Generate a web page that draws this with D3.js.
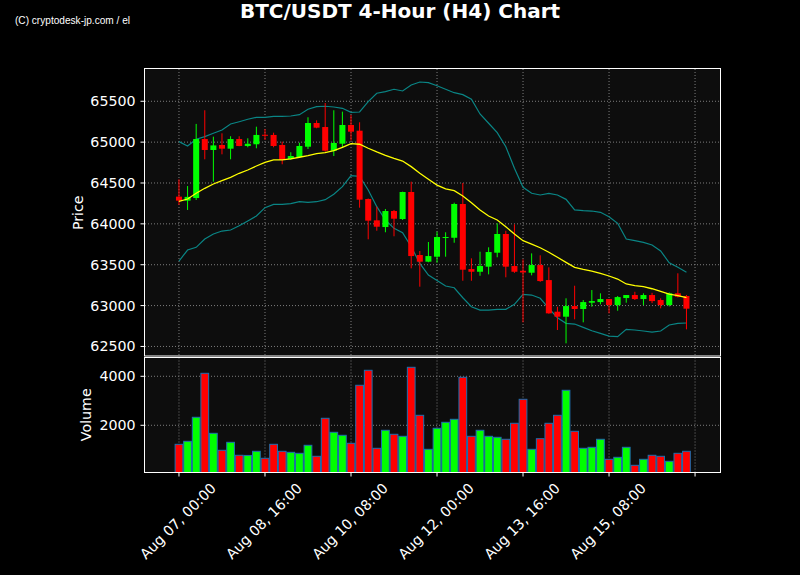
<!DOCTYPE html>
<html><head><meta charset="utf-8">
<script src="https://cdn.jsdelivr.net/npm/d3@7/dist/d3.min.js"></script>
<style>body{margin:0;background:#000}svg{display:block}</style>
</head><body>
<svg id="chart" width="800" height="575"></svg>
<script>
// ---- data ----
const xTickIndex = [0, 10, 20, 30, 40, 50, 60];
const xTickLabels = ["Aug 07, 00:00", "Aug 08, 16:00", "Aug 10, 08:00", "Aug 12, 00:00", "Aug 13, 16:00", "Aug 15, 08:00", ""];
const priceTicks = [62500, 63000, 63500, 64000, 64500, 65000, 65500];
const volumeTicks = [2000, 4000];

const openP = [64333,64284,64316,65038,64904,64965,64920,65038,64953,64974,65090,65088,64965,64794,64818,64944,65234,65185,64895,64981,65210,65140,64304,64043,63961,64157,64059,64390,63619,63537,63598,63827,63830,64243,63447,63414,63476,63647,63876,63484,63426,63402,63496,63312,62925,62864,62994,62958,63035,63043,63080,63006,63092,63129,63080,63129,63068,63006,63150,63117];
const highP = [64545,64463,65223,65390,65067,65108,65072,65072,65047,65189,65161,65116,65006,64876,64993,65304,65267,65479,65390,65373,65332,65243,64310,64210,64182,64170,64394,64516,63668,63778,63904,63897,64259,64500,63578,63659,63713,64007,63916,63994,63566,63639,63615,63468,62986,63089,63243,63068,63190,63150,63080,63117,63129,63169,63150,63156,63089,63160,63395,63129];
const lowP = [64231,64170,64292,64790,64516,64851,64790,64950,64937,64925,65026,64937,64729,64782,64810,64916,65170,64883,64830,64937,65018,64198,63811,63916,63897,63848,64047,63456,63231,63530,63524,63598,63769,63304,63304,63365,63382,63591,63346,63400,62795,63370,63290,62900,62701,62538,62832,62795,62986,63015,62905,62937,63035,63068,63006,63030,62966,62990,63100,62709];
const closeP = [64284,64330,65038,64904,64960,64920,65038,64953,64980,65088,65085,64953,64782,64830,64953,65234,65177,64895,64990,65210,65128,64296,64039,63965,64157,64063,64390,63606,63537,63606,63839,63839,64243,63439,63414,63484,63655,63876,63476,63414,63405,63496,63300,62905,62864,62994,62958,63043,63055,63080,63006,63104,63129,63080,63129,63055,63006,63150,63108,62962];
const volume = [1224,1347,2327,4122,1673,980,1306,776,770,939,653,1224,939,898,857,1184,735,2286,1714,1592,1265,3633,4245,1061,1796,1633,1551,4367,2408,1020,1878,2122,2245,3959,1551,1796,1551,1510,1429,2082,3061,1020,1453,2082,2408,3429,1755,1061,1102,1429,612,694,1102,367,612,776,735,531,857,939];
const sma = [64276,64304,64374,64435,64488,64528,64570,64619,64659,64708,64753,64782,64782,64794,64815,64834,64859,64871,64895,64937,64981,64974,64925,64880,64839,64802,64769,64700,64619,64545,64474,64427,64406,64341,64259,64170,64096,64047,63965,63876,63794,63753,63708,63652,63591,63529,63468,63444,63423,63395,63362,63325,63264,63243,63231,63206,63174,63141,63121,63096];
const upperBand = [65006,64953,65035,65067,65108,65149,65222,65250,65280,65304,65304,65316,65316,65320,65336,65402,65434,65439,65430,65414,65365,65369,65495,65598,65618,65647,65626,65700,65736,65728,65690,65647,65605,65581,65524,65345,65231,65116,64944,64680,64447,64374,64353,64374,64353,64300,64170,64161,64157,64141,64088,64007,63814,63794,63774,63741,63668,63524,63468,63407];
const lowerBand = [63545,63680,63713,63814,63876,63912,63925,63977,64035,64096,64198,64239,64239,64247,64271,64264,64271,64296,64362,64455,64589,64582,64414,64210,64047,63945,63892,63720,63517,63374,63308,63239,63218,63096,62986,62945,62945,62954,62954,63015,63138,63129,63089,62966,62851,62783,62774,62734,62692,62660,62627,62619,62709,62701,62689,62676,62689,62762,62783,62787];

const idx = d3.range(openP.length);
const UP = "#00ff00", DOWN = "#ff0000";

// ---- layout ----
const L = 145, R = 720;
const pTop = 69, pBot = 356.5, vTop = 357.5, vBot = 472;
const svg = d3.select("#chart");
svg.append("rect").attr("width", 800).attr("height", 575).attr("fill", "#000");

const x = d3.scaleLinear().domain([-3.95, 62.9]).range([L, R]);
const yP = d3.scaleLinear().domain([62383, 65895]).range([356, 69]);
const yV = d3.scaleLinear().domain([94, 4775]).range([vBot, 357.3]);
const step = x(1) - x(0);

const font = "'DejaVu Sans', sans-serif";

// panels backgrounds
svg.append("rect").attr("x", L).attr("y", pTop).attr("width", R - L).attr("height", pBot - pTop).attr("fill", "#0d0d0d");
svg.append("rect").attr("x", L).attr("y", vTop).attr("width", R - L).attr("height", vBot - vTop).attr("fill", "#0d0d0d");

svg.append("clipPath").attr("id", "clipP").append("rect").attr("x", L).attr("y", pTop).attr("width", R - L).attr("height", pBot - pTop);
svg.append("clipPath").attr("id", "clipV").append("rect").attr("x", L).attr("y", vTop).attr("width", R - L).attr("height", vBot - vTop);

// grids
const grid = svg.append("g").attr("stroke", "#9a9a9a").attr("stroke-width", 1).attr("stroke-dasharray", "1,2").attr("opacity", 0.8);
xTickIndex.forEach(i => {
  grid.append("line").attr("x1", x(i)).attr("x2", x(i)).attr("y1", pTop).attr("y2", pBot);
  grid.append("line").attr("x1", x(i)).attr("x2", x(i)).attr("y1", vTop).attr("y2", vBot);
});
priceTicks.forEach(t => grid.append("line").attr("x1", L).attr("x2", R).attr("y1", yP(t)).attr("y2", yP(t)));
volumeTicks.forEach(t => grid.append("line").attr("x1", L).attr("x2", R).attr("y1", yV(t)).attr("y2", yV(t)));

// price panel content
const gP = svg.append("g").attr("clip-path", "url(#clipP)");
const line = arr => d3.line().x((d, i) => x(i)).y(d => yP(d))(arr);
gP.append("path").attr("d", line(upperBand)).attr("fill", "none").attr("stroke", "#0a8585").attr("stroke-width", 1.2);
gP.append("path").attr("d", line(lowerBand)).attr("fill", "none").attr("stroke", "#0a8585").attr("stroke-width", 1.2);

const cw = step * 0.7;
idx.forEach(i => {
  const up = closeP[i] >= openP[i];
  const c = up ? UP : DOWN;
  gP.append("line").attr("x1", x(i)).attr("x2", x(i)).attr("y1", yP(highP[i])).attr("y2", yP(lowP[i])).attr("stroke", c).attr("stroke-width", 1);
  const top = yP(Math.max(openP[i], closeP[i])), bot = yP(Math.min(openP[i], closeP[i]));
  gP.append("rect").attr("x", x(i) - cw / 2).attr("y", top).attr("width", cw).attr("height", Math.max(1, bot - top)).attr("fill", c);
});
gP.append("path").attr("d", line(sma)).attr("fill", "none").attr("stroke", "#ffff00").attr("stroke-width", 1.3);

// volume panel
const gV = svg.append("g").attr("clip-path", "url(#clipV)");
const bw = step * 0.9;
idx.forEach(i => {
  const up = closeP[i] >= openP[i];
  gV.append("rect").attr("x", x(i) - bw / 2).attr("y", yV(volume[i])).attr("width", bw).attr("height", yV(94) - yV(volume[i]) + 2)
    .attr("fill", up ? UP : DOWN).attr("stroke", "#1f6fb0").attr("stroke-width", 1);
});

// spines
const sp = svg.append("g").attr("fill", "none").attr("stroke", "#fff").attr("stroke-width", 1);
sp.append("rect").attr("x", L - 0.5).attr("y", pTop - 0.5).attr("width", R - L + 1).attr("height", pBot - pTop);
sp.append("rect").attr("x", L - 0.5).attr("y", vTop).attr("width", R - L + 1).attr("height", vBot - vTop + 0.5);

// y ticks & labels
const tk = svg.append("g").attr("stroke", "#fff").attr("stroke-width", 1);
const lab = svg.append("g").attr("fill", "#fff").attr("font-family", font).attr("font-size", "14.2px");
priceTicks.forEach(t => {
  tk.append("line").attr("x1", L - 4.5).attr("x2", L - 0.5).attr("y1", yP(t)).attr("y2", yP(t));
  lab.append("text").attr("x", L - 9.5).attr("y", yP(t)).attr("dy", "0.35em").attr("text-anchor", "end").text(d3.format("d")(t));
});
volumeTicks.forEach(t => {
  tk.append("line").attr("x1", L - 4.5).attr("x2", L - 0.5).attr("y1", yV(t)).attr("y2", yV(t));
  lab.append("text").attr("x", L - 9.5).attr("y", yV(t)).attr("dy", "0.35em").attr("text-anchor", "end").text(d3.format("d")(t));
});
// x ticks & rotated labels
xTickIndex.forEach((i, k) => {
  tk.append("line").attr("x1", x(i)).attr("x2", x(i)).attr("y1", vBot + 0.5).attr("y2", vBot + 4.5);
  if (!xTickLabels[k]) return;
  const t = lab.append("text").attr("text-anchor", "middle").attr("dominant-baseline", "central").text(xTickLabels[k]);
  const w = t.node().getComputedTextLength();
  const h = 13.9 * 1.16;
  const bh = (w + h) * Math.SQRT1_2;
  const cx = x(i) - 1, cy = vBot + 4.5 + 3.5 + bh / 2;
  t.attr("transform", `translate(${cx},${cy}) rotate(-45)`);
});

// axis titles
lab.append("text").attr("transform", `translate(78,${(pTop + pBot) / 2}) rotate(-90)`).attr("text-anchor", "middle").attr("dy", "0.35em").text("Price");
lab.append("text").attr("transform", `translate(86,${(vTop + vBot) / 2}) rotate(-90)`).attr("text-anchor", "middle").attr("dy", "0.35em").text("Volume");

// title & watermark
svg.append("text").attr("x", 400).attr("y", 18).attr("text-anchor", "middle").attr("fill", "#fff")
  .attr("font-family", font).attr("font-weight", "bold").attr("font-size", "20px").text("BTC/USDT 4-Hour (H4) Chart");
svg.append("text").attr("x", 15).attr("y", 24).attr("fill", "#fff").attr("font-family", "'Liberation Sans Narrow','Liberation Sans',sans-serif")
  .attr("font-size", "10.5px").attr("textLength", 115).attr("lengthAdjust", "spacingAndGlyphs").text("(C) cryptodesk-jp.com / el");
</script>
</body></html>
